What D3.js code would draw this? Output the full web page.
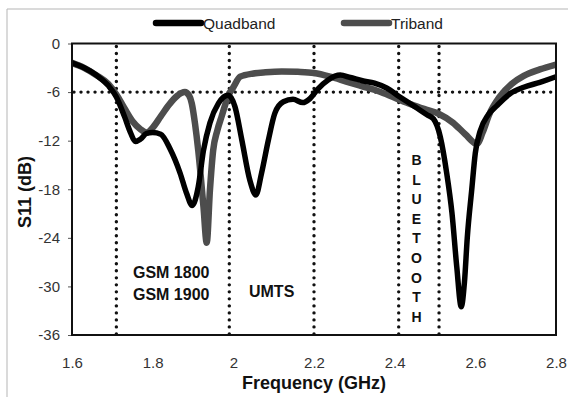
<!DOCTYPE html>
<html>
<head>
<meta charset="utf-8">
<script src="https://cdn.jsdelivr.net/npm/d3@7"></script>
<style>
  html, body { margin: 0; padding: 0; background: #fff; }
  svg { display: block; }
  text { font-family: "Liberation Sans", Arial, sans-serif; }
</style>
</head>
<body>
<svg id="chart" width="568" height="397"></svg>
<script>
// ---- data ----
const quadFreq = [1.60,1.63,1.66,1.69,1.71,1.73,1.745,1.757,1.77,1.785,1.80,1.82,1.843,1.868,1.884,1.898,1.913,1.926,1.942,1.963,1.987,2.004,2.021,2.041,2.056,2.07,2.087,2.103,2.124,2.148,2.172,2.19,2.21,2.235,2.265,2.29,2.32,2.35,2.38,2.413,2.45,2.48,2.496,2.513,2.529,2.542,2.554,2.565,2.573,2.58,2.591,2.60,2.612,2.632,2.653,2.686,2.72,2.76,2.80];
const quadS11  = [-2.4,-3.0,-3.9,-5.2,-6.6,-9.0,-11.0,-12.1,-11.8,-11.1,-11.0,-11.2,-13.0,-16.0,-18.5,-20.0,-17.7,-13.2,-9.8,-7.4,-6.4,-7.8,-11.9,-16.9,-18.7,-16.0,-11.9,-8.6,-7.2,-6.9,-7.3,-6.8,-5.6,-4.5,-3.9,-4.2,-4.6,-4.9,-5.5,-6.6,-7.8,-8.8,-9.3,-11.5,-16.0,-20.9,-27.6,-32.5,-29.5,-24.0,-18.1,-13.5,-10.8,-8.8,-7.7,-6.2,-5.4,-4.8,-4.1];

const triFreq = [1.60,1.63,1.66,1.69,1.71,1.73,1.75,1.77,1.785,1.80,1.82,1.84,1.86,1.88,1.89,1.897,1.905,1.913,1.926,1.934,1.942,1.950,1.96,1.971,1.988,2.00,2.017,2.05,2.08,2.12,2.16,2.20,2.24,2.28,2.32,2.36,2.40,2.44,2.48,2.51,2.545,2.575,2.604,2.618,2.635,2.66,2.69,2.72,2.76,2.80];
const triS11  = [-2.4,-3.0,-3.9,-5.0,-6.3,-8.0,-9.6,-10.6,-11.0,-10.4,-9.0,-7.6,-6.5,-6.0,-6.4,-7.4,-9.9,-13.2,-20.2,-24.6,-18.1,-13.2,-10.8,-9.0,-6.4,-5.4,-4.1,-3.7,-3.55,-3.45,-3.5,-3.65,-4.1,-4.7,-5.3,-5.9,-6.7,-7.5,-8.2,-8.7,-9.8,-11.2,-12.4,-11.0,-8.7,-6.6,-5.0,-4.0,-3.2,-2.6];

const xTicks = [1.6, 1.8, 2.0, 2.2, 2.4, 2.6, 2.8];
const xTickLabels = ["1.6","1.8","2","2.2","2.4","2.6","2.8"];
const yTicks = [0, -6, -12, -18, -24, -30, -36];
const yTickLabels = ["0","-6","-12","-18","-24","-30","-36"];
const bandEdges = [1.71, 1.99, 2.20, 2.41, 2.51];
const thresholdDb = -6;
const seriesNames = ["Quadband", "Triband"];
const bandLabels = [
  { lines: ["GSM 1800", "GSM 1900"], f: 1.846, v: -29.0 },
  { lines: ["UMTS"], f: 2.095, v: -31.3 }
];
const bluetoothLetters = "BLUETOOTH".split("");

// ---- layout ----
const svg = d3.select("#chart");
const L = 72, R = 556, T = 43.5, B = 335;
const x = d3.scaleLinear().domain([1.6, 2.8]).range([L, R]);
const y = d3.scaleLinear().domain([0, -36]).range([T, B]);

// outer frame (light grey, top-left)
svg.append("path").attr("d", `M7,400 L7,9 L580,9`)
  .attr("fill", "none").attr("stroke", "#b5b5b5").attr("stroke-width", 1);

// y axis ticks + labels
const yAxis = d3.axisLeft(y).tickValues(yTicks).tickSize(4).tickPadding(8)
  .tickFormat((d, i) => yTickLabels[i]);
const gy = svg.append("g").attr("transform", `translate(${L},0)`).call(yAxis);
gy.select(".domain").remove();
gy.selectAll("line").attr("stroke", "#555");
gy.selectAll("text").attr("font-size", 15).attr("fill", "#333")
  .attr("font-family", "Liberation Sans, Arial, sans-serif");

// x axis labels
const xAxis = d3.axisBottom(x).tickValues(xTicks).tickSize(0).tickPadding(22)
  .tickFormat((d, i) => xTickLabels[i]);
const gx = svg.append("g").attr("transform", `translate(0,${B})`).call(xAxis);
gx.select(".domain").remove();
gx.selectAll("text").attr("font-size", 15).attr("fill", "#333")
  .attr("font-family", "Liberation Sans, Arial, sans-serif");

// dotted reference lines
const dotStyle = sel => sel.attr("stroke", "#111").attr("stroke-width", 3.4)
  .attr("stroke-linecap", "round").attr("stroke-dasharray", "0.01 7");
svg.selectAll("line.band").data(bandEdges).enter().append("line")
  .attr("class", "band")
  .attr("x1", d => x(d)).attr("x2", d => x(d))
  .attr("y1", y(0) + 3).attr("y2", y(-36))
  .call(dotStyle);
svg.append("line")
  .attr("x1", L + 2).attr("x2", R)
  .attr("y1", y(thresholdDb)).attr("y2", y(thresholdDb))
  .call(dotStyle);

// curves
const line = d3.line().x(d => x(d[0])).y(d => y(d[1])).curve(d3.curveMonotoneX);
const triData = triFreq.map((f, i) => [f, triS11[i]]);
const quadData = quadFreq.map((f, i) => [f, quadS11[i]]);
svg.append("clipPath").attr("id", "plotclip")
  .append("rect").attr("x", L).attr("y", T).attr("width", R - L).attr("height", B - T);
svg.append("path").datum(triData).attr("d", line)
  .attr("fill", "none").attr("stroke", "#4d4d4d").attr("stroke-width", 6.5)
  .attr("stroke-linejoin", "round").attr("clip-path", "url(#plotclip)");
svg.append("path").datum(quadData).attr("d", line)
  .attr("fill", "none").attr("stroke", "#000").attr("stroke-width", 5.5)
  .attr("stroke-linejoin", "round").attr("clip-path", "url(#plotclip)");

// plot frame
svg.append("rect").attr("x", L).attr("y", T).attr("width", R - L).attr("height", B - T)
  .attr("fill", "none").attr("stroke", "#111").attr("stroke-width", 2);

// band labels
bandLabels.forEach(b => {
  b.lines.forEach((t, i) => {
    svg.append("text").attr("x", x(b.f)).attr("y", y(b.v) + i * 22)
      .attr("text-anchor", "middle").attr("font-size", 16).attr("font-weight", "bold")
      .attr("fill", "#111").text(t);
  });
});
svg.selectAll("text.bt").data(bluetoothLetters).enter().append("text")
  .attr("class", "bt")
  .attr("x", 416.5).attr("y", (d, i) => 165 + i * 19.6)
  .attr("text-anchor", "middle").attr("font-size", 14).attr("font-weight", "bold")
  .attr("fill", "#111").text(d => d);

// axis titles
svg.append("text").attr("transform", `translate(31,192) rotate(-90)`)
  .attr("text-anchor", "middle").attr("font-size", 18).attr("font-weight", "bold")
  .attr("fill", "#111").text("S11 (dB)");
svg.append("text").attr("x", (L + R) / 2).attr("y", 389)
  .attr("text-anchor", "middle").attr("font-size", 18).attr("font-weight", "bold")
  .attr("fill", "#111").text("Frequency (GHz)");

// legend
const legend = [
  { name: seriesNames[0], color: "#000", x0: 156 },
  { name: seriesNames[1], color: "#4d4d4d", x0: 344 }
];
legend.forEach(l => {
  svg.append("line").attr("x1", l.x0).attr("x2", l.x0 + 45).attr("y1", 23).attr("y2", 23)
    .attr("stroke", l.color).attr("stroke-width", 6.5).attr("stroke-linecap", "round");
  svg.append("text").attr("x", l.x0 + 47).attr("y", 28.5).attr("font-size", 15.5)
    .attr("fill", "#222").text(l.name);
});
</script>
</body>
</html>
